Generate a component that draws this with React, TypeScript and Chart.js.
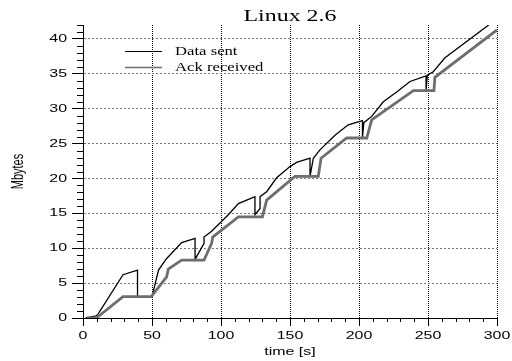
import React, { useEffect, useRef } from 'react';
import { Chart, registerables } from 'chart.js';

Chart.register(...registerables);

// ---- text ----
const TITLE = 'Linux 2.6';
const X_TITLE = 'time [s]';
const Y_TITLE = 'Mbytes';
const SENT_LABEL = 'Data sent';
const ACK_LABEL = 'Ack received';

// ---- axes ----
const X_MIN = 0;
const X_MAX = 300;
const X_STEP = 50;
const X_MINOR = 10;
const Y_MIN = 0;
const Y_MAX = 42;
const Y_STEP = 5;
const Y_MINOR = 1;

// ---- series: Data sent ----
const sentTime = [2, 9.7, 11, 29, 39.5, 39.5, 50, 54.8, 60.5, 71.5, 81.2, 81.2, 87.7, 87.7, 93, 105.3, 112.6, 118.6, 124.6, 124.6, 128.3, 128.3, 133.1, 140.3, 150, 154.8, 164.5, 164.5, 166.9, 171.7, 182.6, 192.2, 202.5, 202.5, 203.5, 209.2, 217.6, 227.3, 237, 248.6, 248.6, 249.5, 253.8, 262.3, 294];
const sentMB = [0, 0.3, 0.6, 6.2, 6.85, 3.05, 3.05, 6.9, 8.5, 10.8, 11.4, 8.4, 10.7, 11.6, 12.4, 14.8, 16.4, 16.9, 17.4, 14.8, 15.7, 17.4, 18.1, 20.1, 21.7, 22.3, 22.9, 20.3, 22.9, 24.1, 26.2, 27.7, 28.3, 25.8, 28.0, 28.9, 31.0, 32.4, 33.9, 34.7, 32.7, 34.8, 35.3, 37.3, 42];

// ---- series: Ack received ----
const ackTime = [3, 9.7, 29, 49.5, 60.6, 61.8, 71.5, 87.7, 93.2, 94, 112.6, 130, 133.1, 153.6, 170.5, 172.5, 191.1, 205.6, 209.2, 239.4, 254.3, 255, 300];
const ackMB = [0, 0, 3.05, 3.05, 5.9, 7.0, 8.3, 8.3, 10.7, 11.6, 14.5, 14.5, 16.9, 20.3, 20.3, 22.9, 25.8, 25.8, 28.4, 32.6, 32.6, 34.5, 41.3];

const SX = 1.45; // horizontal stretch of the reference's text

function patchText(ctx: any) {
  const proto = CanvasRenderingContext2D.prototype;
  ctx.fillText = function (text: string, x: number, y: number, maxWidth?: number) {
    const m = this.getTransform();
    const px = m.a * x + m.c * y + m.e;
    const py = m.b * x + m.d * y + m.f;
    this.save();
    const s = new DOMMatrix().translate(px, py).scale(SX, 1).translate(-px, -py).multiply(m);
    this.setTransform(s);
    if (maxWidth === undefined) proto.fillText.call(this, text, x, y);
    else proto.fillText.call(this, text, x, y, maxWidth);
    this.restore();
  };
}

const minorTicks = {
  id: 'minorTicks',
  afterDraw(chart: any) {
    const { ctx, chartArea } = chart;
    const x = chart.scales.x;
    const y = chart.scales.y;
    ctx.save();
    ctx.strokeStyle = '#000';
    ctx.lineWidth = 1;
    ctx.beginPath();
    for (let v = Y_MIN + Y_MINOR; v <= Y_MAX; v += Y_MINOR) {
      if (v % Y_STEP === 0) continue;
      const py = Math.round(y.getPixelForValue(v)) + 0.5;
      ctx.moveTo(chartArea.left - 6, py);
      ctx.lineTo(chartArea.left, py);
    }
    for (let v = X_MIN + X_MINOR; v < X_MAX; v += X_MINOR) {
      if (v % X_STEP === 0) continue;
      const px = Math.round(x.getPixelForValue(v)) + 0.5;
      ctx.moveTo(px, chartArea.bottom);
      ctx.lineTo(px, chartArea.bottom + 4);
    }
    ctx.stroke();
    ctx.restore();
  },
};

const lineLegend = {
  id: 'lineLegend',
  afterDraw(chart: any) {
    const { ctx, chartArea } = chart;
    const widths = [1, 1.6];
    ctx.save();
    ctx.font = '11.5px "Liberation Serif"';
    ctx.textBaseline = 'middle';
    ctx.textAlign = 'left';
    ctx.fillStyle = '#000';
    chart.data.datasets.forEach((ds: any, i: number) => {
      const yy = chartArea.top + 26.5 + i * 16;
      ctx.strokeStyle = ds.borderColor;
      ctx.lineWidth = widths[i];
      ctx.beginPath();
      ctx.moveTo(chartArea.left + 42, yy);
      ctx.lineTo(chartArea.left + 79, yy);
      ctx.stroke();
      ctx.fillText(ds.label, chartArea.left + 92, yy + 0.5);
    });
    ctx.restore();
  },
};

export default function App() {
  const ref = useRef<HTMLCanvasElement | null>(null);

  useEffect(() => {
    const canvas = ref.current!;
    const ctx = canvas.getContext('2d')!;
    patchText(ctx);

    const sent = sentTime.map((t, i) => ({ x: t, y: sentMB[i] }));
    const ack = ackTime.map((t, i) => ({ x: t, y: ackMB[i] }));

    const tickFont = { family: '"Liberation Sans", Arial, sans-serif', size: 11 };

    const chart = new Chart(ctx, {
      type: 'line',
      data: {
        datasets: [
          {
            label: SENT_LABEL,
            data: sent,
            borderColor: '#000000',
            borderWidth: 1.3,
            pointRadius: 0,
            tension: 0,
            fill: false,
            order: 2,
          },
          {
            label: ACK_LABEL,
            data: ack,
            borderColor: '#6e6e6e',
            borderWidth: 2.8,
            pointRadius: 0,
            tension: 0,
            fill: false,
            order: 1,
          },
        ],
      },
      options: {
        responsive: false,
        animation: false,
        devicePixelRatio: 1,
        layout: { padding: { left: 0, right: 15, top: 0, bottom: 0 } },
        plugins: {
          legend: { display: false },
          tooltip: { enabled: false },
          title: {
            display: true,
            text: TITLE,
            fullSize: false,
            color: '#000',
            font: { family: '"Liberation Serif", "Times New Roman", serif', size: 16.5, weight: 'normal', lineHeight: 1 },
            padding: { top: 8, bottom: 0.5 },
          },
        },
        scales: {
          x: {
            type: 'linear',
            min: X_MIN,
            max: X_MAX,
            ticks: {
              stepSize: X_STEP,
              color: '#000',
              font: tickFont,
              padding: 3,
              maxRotation: 0,
              autoSkip: false,
            },
            grid: {
              color: '#000',
              lineWidth: 1,
              tickLength: 8,
              tickColor: '#000',
              tickWidth: 1,
            },
            border: { display: true, color: '#000', width: 1, dash: [1, 1] },
            title: {
              display: true,
              text: X_TITLE,
              color: '#000',
              font: tickFont,
              padding: { top: 2.4, bottom: 2.4 },
            },
            afterFit(s: any) {
              s.height = 43;
              s.paddingLeft = 0;
              s.paddingRight = 0;
            },
          } as any,
          y: {
            type: 'linear',
            min: Y_MIN,
            max: Y_MAX,
            ticks: {
              stepSize: Y_STEP,
              color: '#000',
              font: tickFont,
              padding: 5,
            },
            afterBuildTicks(s: any) {
              s.ticks = s.ticks.filter((t: any) => t.value % Y_STEP === 0);
            },
            grid: {
              color: '#777',
              lineWidth: 1,
              tickLength: 11,
              tickColor: '#000',
              tickWidth: 1,
            },
            border: { display: true, color: '#000', width: 1, dash: [2, 2] },
            title: {
              display: true,
              text: Y_TITLE,
              color: '#000',
              font: tickFont,
              padding: { top: 12.4, bottom: 12.4 },
            },
            afterFit(s: any) {
              s.width = 83;
              s.paddingTop = 0;
              s.paddingBottom = 0;
            },
          } as any,
        },
      },
      plugins: [minorTicks, lineLegend],
    });

    return () => chart.destroy();
  }, []);

  return (
    <div style={{ position: 'absolute', left: 0, top: 0, width: 512, height: 361 }}>
      <canvas ref={ref} width={512} height={361} style={{ display: 'block' }} />
    </div>
  );
}
